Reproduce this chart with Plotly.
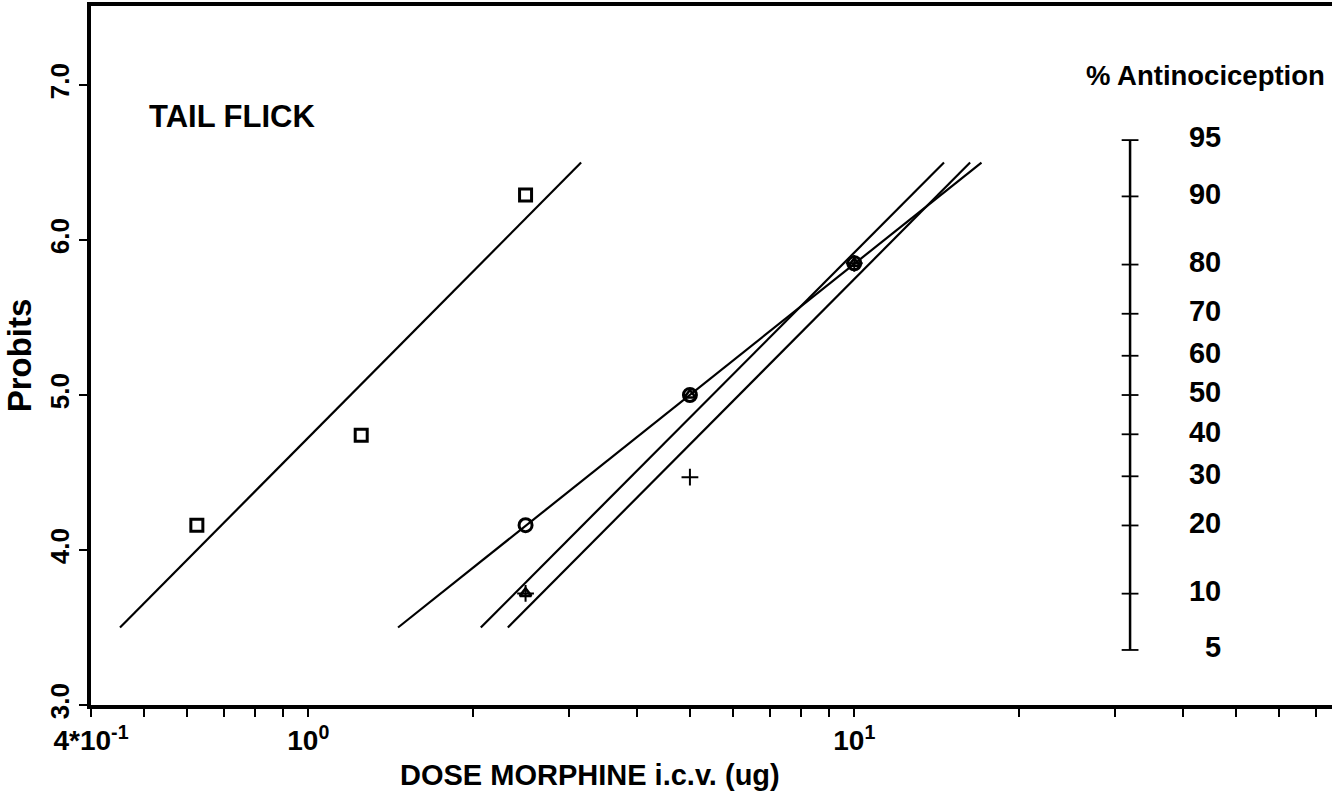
import plotly.graph_objects as go
from statistics import NormalDist

# ---------------- data ----------------
sq_dose = [0.625, 1.25, 2.5]
sq_probit = [4.16, 4.74, 6.29]

circ_dose = [2.5, 5, 10]
circ_probit = [4.16, 5.0, 5.85]

tri_dose = [2.5, 5, 10]
tri_probit = [3.72, 5.0, 5.85]

plus_dose = [2.5, 5, 10]
plus_probit = [3.72, 4.47, 5.85]

# fitted regression lines: dose at the two probit end values
fit_probit = [3.5, 6.5]
fit_sq_dose = [0.452, 3.16]
fit_circ_dose = [1.46, 17.1]
fit_tri_dose = [2.07, 14.6]
fit_plus_dose = [2.32, 16.3]

pct_labels = [95, 90, 80, 70, 60, 50, 40, 30, 20, 10, 5]

x_major_vals = [0.4, 1, 10]
x_major_text = ["4*10<sup>-1</sup>", "10<sup>0</sup>", "10<sup>1</sup>"]
x_minor_vals = [0.5, 0.6, 0.7, 0.8, 0.9, 2, 3, 4, 5, 6, 7, 8, 9, 20, 30, 40, 50, 60, 70]
y_tick_vals = [3.0, 4.0, 5.0, 6.0, 7.0]
y_tick_text = ["3.0", "4.0", "5.0", "6.0", "7.0"]

# ---------------- figure ----------------
FONT = "Liberation Sans, Arial, Helvetica, sans-serif"
BLACK = "#000000"

fig = go.Figure()

for xd in [fit_sq_dose, fit_circ_dose, fit_tri_dose, fit_plus_dose]:
    fig.add_trace(go.Scatter(x=xd, y=fit_probit, mode="lines",
                             line=dict(color=BLACK, width=2.2), hoverinfo="skip"))

def pts(x, y, sym, size, lw=2.2):
    fig.add_trace(go.Scatter(x=x, y=y, mode="markers",
                             marker=dict(symbol=sym, size=size, color=BLACK,
                                         line=dict(color=BLACK, width=lw))))

pts(sq_dose, sq_probit, "square-open", 12, 3)
pts(circ_dose, circ_probit, "circle-open", 13, 3)
pts(tri_dose, tri_probit, "triangle-up-open", 10, 2.6)
pts(plus_dose, plus_probit, "cross-thin-open", 12, 2)

# percent antinociception scale (probit transform of percentages)
nd = NormalDist()
pct_probit = [5 + nd.inv_cdf(p / 100) for p in pct_labels]
SCALE_X = 32.0
LABEL_X = 47.0
fig.add_trace(go.Scatter(x=[SCALE_X] * len(pct_probit), y=pct_probit, mode="lines+markers",
                         line=dict(color=BLACK, width=2.5),
                         marker=dict(symbol="line-ew", size=12, color=BLACK,
                                     line=dict(color=BLACK, width=1.8)),
                         hoverinfo="skip"))
fig.add_trace(go.Scatter(x=[LABEL_X] * len(pct_probit), y=pct_probit, mode="text",
                         text=[str(p) for p in pct_labels], textposition="middle left",
                         textfont=dict(family=FONT, size=29, color=BLACK, weight="bold"),
                         hoverinfo="skip"))

fig.add_annotation(text="TAIL FLICK", xref="paper", yref="paper", x=0.045, y=0.842,
                   xanchor="left", yanchor="middle", showarrow=False,
                   font=dict(family=FONT, size=31, color=BLACK, weight="bold"))
fig.add_annotation(text="% Antinociception", xref="paper", yref="paper", x=0.800, y=0.901,
                   xanchor="left", yanchor="middle", showarrow=False,
                   font=dict(family=FONT, size=27.5, color=BLACK, weight="bold"))
# x-axis title (centred under the visible part of the original, wider axis)
fig.add_annotation(text="DOSE MORPHINE i.c.v. (ug)", xref="paper", yref="paper",
                   x=(590 - 91) / 1241, y=-0.1, xanchor="center", yanchor="middle",
                   showarrow=False,
                   font=dict(family=FONT, size=29, color=BLACK, weight="bold"))

fig.update_layout(
    width=1332, height=795,
    margin=dict(l=91, r=0, t=6, b=90),
    paper_bgcolor="white", plot_bgcolor="white",
    showlegend=False,
    font=dict(family=FONT, color=BLACK, weight="bold"),
)
fig.update_xaxes(
    type="log", range=[-0.398, 1.875],
    showgrid=False, zeroline=False,
    showline=True, linecolor=BLACK, linewidth=3.5, mirror=True,
    ticks="outside", ticklen=8, tickwidth=2, tickcolor=BLACK,
    tickmode="array", tickvals=x_major_vals, ticktext=x_major_text,
    tickfont=dict(family=FONT, size=28, color=BLACK, weight="bold"),
    minor=dict(tickmode="array", tickvals=x_minor_vals, ticks="outside",
               ticklen=8, tickwidth=2, tickcolor=BLACK, showgrid=False),
)
fig.update_yaxes(
    range=[3.0, 7.51],
    showgrid=False, zeroline=False,
    showline=True, linecolor=BLACK, linewidth=3.5,
    ticks="outside", ticklen=8, tickwidth=1.5, tickcolor=BLACK,
    tickmode="array", tickvals=y_tick_vals, ticktext=y_tick_text, tickangle=-90,
    tickfont=dict(family=FONT, size=26, color=BLACK, weight="bold"),
    title=dict(text="Probits", standoff=4,
               font=dict(family=FONT, size=33, color=BLACK, weight="bold")),
)

fig.write_html("out.html")
